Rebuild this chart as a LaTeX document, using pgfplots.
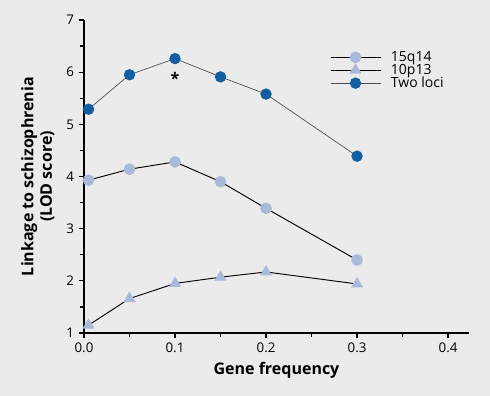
\documentclass[border=0pt]{standalone}
\usepackage{fontspec}
\setmainfont{Open Sans}
\usepackage{pgfplots}
\pgfplotsset{compat=1.18}
\definecolor{bg}{HTML}{EBEBEB}
\definecolor{dblue}{HTML}{125EA0}
\definecolor{lblue}{HTML}{A9B9D9}
\begin{document}
\begin{tikzpicture}
\fill[bg] (-63pt,-47.25pt) rectangle (304.5pt,249.75pt);
\begin{axis}[
  at={(0,0)}, anchor=south west,
  scale only axis, width=288.75pt, height=234.75pt,
  xmin=0, xmax=0.423, ymin=1, ymax=7,
  axis x line*=bottom, axis y line*=left,
  axis line style={line width=1.3pt, -},
  xtick={0,0.1,0.2,0.3,0.4}, xticklabels={0.0,0.1,0.2,0.3,0.4},
  minor xtick={0.05,0.15,0.25,0.35},
  ytick={1,2,3,4,5,6,7},
  minor ytick={1.5,2.5,3.5,4.5,5.5,6.5},
  tick align=outside,
  major tick length=4pt, minor tick length=3pt,
  tick style={line width=1pt, black},
  /pgf/number format/assume math mode=true,
  tick label style={font=\fontsize{10}{12}\selectfont},
  xlabel={Gene frequency},
  ylabel={Linkage to schizophrenia\\(LOD score)},
  label style={font=\bfseries\fontsize{12}{14}\selectfont},
  ylabel style={align=center, xshift=0pt, yshift=2pt},
  legend style={at={(0.628,0.92)}, anchor=north west, draw=none, fill=none,
    font=\fontsize{10.5}{11}\selectfont, row sep=-4.5pt, column sep=5pt,
    nodes={inner sep=2.5pt}},
  legend cell align=left,
  legend image code/.code={\draw[mark repeat=2,mark phase=2,#1] plot coordinates {(0pt,0pt)(18.75pt,0pt)(37.5pt,0pt)};},
]
\addplot[black, line width=0.7pt, mark=*, mark size=4pt, mark options={draw=lblue, fill=lblue}]
  coordinates {(0.005,3.93)(0.05,4.14)(0.1,4.28)(0.15,3.90)(0.2,3.39)(0.3,2.40)};
\addlegendentry{15q14}
\addplot[black, line width=0.7pt, mark=triangle*, mark size=4.5pt, mark options={draw=lblue, fill=lblue}]
  coordinates {(0.005,1.15)(0.05,1.66)(0.1,1.95)(0.15,2.07)(0.2,2.17)(0.3,1.94)};
\addlegendentry{10p13}
\addplot[black!70, line width=0.5pt, mark=*, mark size=4pt, mark options={draw=dblue, fill=dblue}]
  coordinates {(0.005,5.29)(0.05,5.95)(0.1,6.26)(0.15,5.91)(0.2,5.58)(0.3,4.39)};
\addlegendentry{Two loci}
\node[font=\bfseries\fontsize{12}{12}\selectfont] at (axis cs:0.1,5.88) {*};
\end{axis}
\end{tikzpicture}
\end{document}
